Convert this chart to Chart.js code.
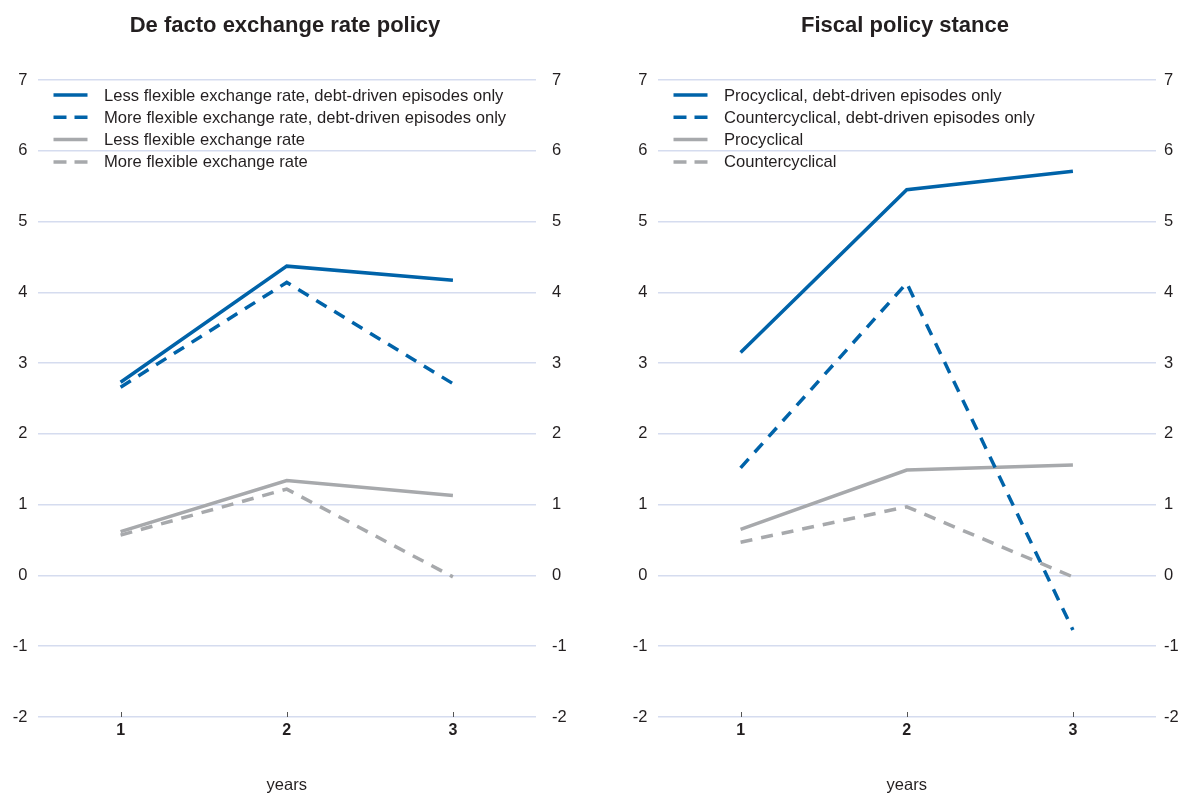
<!DOCTYPE html>
<html lang="en">
<head>
    <meta charset="UTF-8">
    <title>Debt-driven episodes: exchange rate and fiscal policy</title>
    <style>
        body { margin: 0; background: #ffffff; overflow: hidden; width: 1182px; height: 794px; position: relative; }
        .panel { position: absolute; top: 0; width: 570px; height: 794px; }
        #leftPanel { left: 0; }
        #rightPanel { left: 620px; }
    </style>
</head>
<body>

<div class="panel" id="leftPanel"><canvas id="exChart" width="570" height="794"></canvas></div>
<div class="panel" id="rightPanel"><canvas id="fiscalChart" width="570" height="794"></canvas></div>

<script src="https://cdn.jsdelivr.net/npm/chart.js"></script>
<script>
    // Categories and y axis
    const years = ['1', '2', '3'];
    const yMin = -2;
    const yMax = 7;

    // De facto exchange rate policy
    const exTitle = 'De facto exchange rate policy';
    const exLabels = [
        'Less flexible exchange rate, debt-driven episodes only',
        'More flexible exchange rate, debt-driven episodes only',
        'Less flexible exchange rate',
        'More flexible exchange rate'
    ];
    const exLessDebt = [2.73, 4.37, 4.17];
    const exMoreDebt = [2.66, 4.14, 2.71];
    const exLess = [0.62, 1.34, 1.13];
    const exMore = [0.57, 1.22, -0.02];

    // Fiscal policy stance
    const fiscTitle = 'Fiscal policy stance';
    const fiscLabels = [
        'Procyclical, debt-driven episodes only',
        'Countercyclical, debt-driven episodes only',
        'Procyclical',
        'Countercyclical'
    ];
    const fiscProDebt = [3.15, 5.45, 5.71];
    const fiscCounterDebt = [1.52, 4.13, -0.77];
    const fiscPro = [0.65, 1.49, 1.56];
    const fiscCounter = [0.47, 0.97, -0.02];

    const BLUE = '#0063a9';
    const GREY = '#a7a9ac';
    const GRID = '#d5dcef';
    const FONT = '"Liberation Sans", Arial, sans-serif';
    const TEXT = '#231f20';

    // legend drawn inside the plot area, plus small ticks on the x axis
    const insideLegend = {
        id: 'insideLegend',
        afterDraw(chart) {
            const ctx = chart.ctx;
            const area = chart.chartArea;
            ctx.save();
            chart.data.datasets.forEach((ds, i) => {
                const y = area.top + 15 + i * 22.3;
                ctx.beginPath();
                ctx.strokeStyle = ds.borderColor;
                ctx.lineWidth = 3.5;
                ctx.setLineDash(ds.borderDash.length ? [13, 8] : []);
                ctx.moveTo(area.left + 16, y);
                ctx.lineTo(area.left + 50, y);
                ctx.stroke();
                ctx.setLineDash([]);
                ctx.fillStyle = TEXT;
                ctx.font = '16.6px ' + FONT;
                ctx.textBaseline = 'middle';
                ctx.textAlign = 'left';
                ctx.fillText(ds.label, area.left + 66.5, y + 1);
            });
            // little tick marks on the bottom line
            const xs = chart.scales.x;
            ctx.strokeStyle = '#555555';
            ctx.lineWidth = 1;
            years.forEach((_, i) => {
                const px = Math.round(xs.getPixelForValue(i)) + 0.5;
                ctx.beginPath();
                ctx.moveTo(px, area.bottom);
                ctx.lineTo(px, area.bottom - 5);
                ctx.stroke();
            });
            ctx.restore();
        }
    };

    function makeDataset(label, data, color, dashed) {
        return {
            label: label,
            data: data,
            borderColor: color,
            backgroundColor: color,
            borderWidth: 3.5,
            borderDash: dashed ? [12, 9] : [],
            pointRadius: 0,
            tension: 0,
            fill: false
        };
    }

    function makeChart(canvasId, title, labels, series, rightPad) {
        const ctx = document.getElementById(canvasId).getContext('2d');
        return new Chart(ctx, {
            type: 'line',
            data: {
                labels: years,
                datasets: [
                    makeDataset(labels[0], series[0], BLUE, false),
                    makeDataset(labels[1], series[1], BLUE, true),
                    makeDataset(labels[2], series[2], GREY, false),
                    makeDataset(labels[3], series[3], GREY, true)
                ]
            },
            options: {
                responsive: false,
                animation: false,
                layout: { padding: 0 },
                plugins: {
                    legend: { display: false },
                    tooltip: { enabled: false },
                    title: {
                        display: true,
                        text: title,
                        color: TEXT,
                        font: { family: FONT, size: 22, weight: 'bold', lineHeight: 1.2 },
                        padding: { top: 13, bottom: 40.6 }
                    }
                },
                scales: {
                    x: {
                        type: 'category',
                        offset: true,
                        grid: { display: false, drawTicks: false },
                        border: { display: false },
                        ticks: {
                            color: TEXT,
                            padding: 4,
                            font: { family: FONT, size: 16, weight: 'bold' }
                        },
                        title: {
                            display: true,
                            text: 'years',
                            color: TEXT,
                            font: { family: FONT, size: 16.5, lineHeight: 1 },
                            padding: { top: 0, bottom: 0 }
                        },
                        afterFit(scale) { scale.height = 77; }
                    },
                    y: {
                        position: 'left',
                        min: yMin,
                        max: yMax,
                        grid: { color: GRID, lineWidth: 1.5, drawTicks: false },
                        border: { display: false },
                        ticks: {
                            stepSize: 1,
                            color: TEXT,
                            padding: 10,
                            font: { family: FONT, size: 16.5 }
                        },
                        afterFit(scale) { scale.width = 37.5; }
                    },
                    y2: {
                        position: 'right',
                        min: yMin,
                        max: yMax,
                        grid: { display: false, drawTicks: false },
                        border: { display: false },
                        ticks: {
                            stepSize: 1,
                            color: TEXT,
                            padding: rightPad,
                            font: { family: FONT, size: 16.5 }
                        },
                        afterFit(scale) { scale.width = 34; }
                    }
                }
            },
            plugins: [insideLegend]
        });
    }

    makeChart('exChart', exTitle, exLabels, [exLessDebt, exMoreDebt, exLess, exMore], 16);
    makeChart('fiscalChart', fiscTitle, fiscLabels, [fiscProDebt, fiscCounterDebt, fiscPro, fiscCounter], 8);
</script>

</body>
</html>
